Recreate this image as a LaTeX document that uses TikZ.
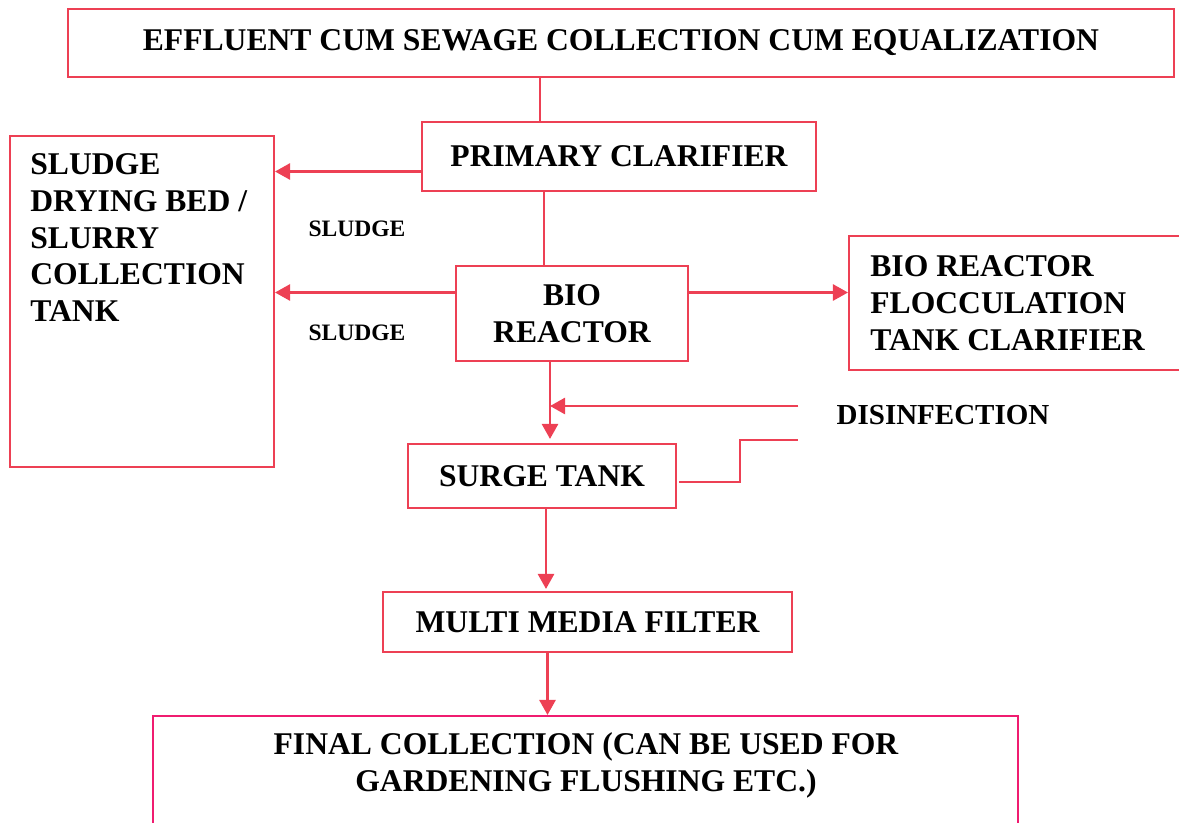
\documentclass[tikz,border=0pt]{standalone}
\usepackage{fontspec}
\setmainfont{Liberation Serif}
\usetikzlibrary{arrows.meta,calc}
\definecolor{LineClr}{RGB}{237,64,84}
\definecolor{FinalClr}{RGB}{240,28,112}

\begin{document}
\begin{tikzpicture}[x=0.02cm,y=-0.02cm,
  box/.style={draw=LineClr,line width=1.2pt,inner sep=0pt},
  txt/.style={font=\fontsize{18}{21}\selectfont\bfseries,align=left,inner sep=0pt},
  midtxt/.style={font=\fontsize{16.5}{19}\selectfont\bfseries,inner sep=0pt},
  smalltxt/.style={font=\fontsize{13.4}{15}\selectfont\bfseries,inner sep=0pt},
  pipe/.style={draw=LineClr,line width=1.5pt},
  flow/.style={pipe,-{Triangle[length=0.3cm,width=0.32cm]}}]
\clip (0,0) rectangle (1179,822);

% boxes
\node[box,txt,minimum width=22.12cm,minimum height=1.36cm] (equal) at (621,43) {EFFLUENT CUM SEWAGE COLLECTION CUM EQUALIZATION};
\node[box,txt,minimum width=7.88cm,minimum height=1.38cm] (prim) at (619,156.5) {PRIMARY CLARIFIER};
\node[box,minimum width=5.28cm,minimum height=6.62cm] (bed) at (142,301.5) {};
\node[txt,anchor=north west] (bedtxt) at (30,153) {SLUDGE\\DRYING BED /\\SLURRY\\COLLECTION\\TANK};
\node[box,txt,align=center,minimum width=4.64cm,minimum height=1.9cm] (bio) at (572,313.5) {BIO\\REACTOR};
\node[box,minimum width=7.02cm,minimum height=2.68cm] (floc) at (1024.5,303) {};
\node[txt,anchor=north west] (floctxt) at (870,255) {BIO REACTOR\\FLOCCULATION\\TANK CLARIFIER};
\node[box,txt,minimum width=5.36cm,minimum height=1.28cm] (surge) at (542,476) {SURGE TANK};
\node[box,txt,minimum width=8.18cm,minimum height=1.2cm] (mmf) at (587.5,622) {MULTI MEDIA FILTER};
\node[box,draw=FinalClr,minimum width=17.3cm,minimum height=2.88cm] (final) at (585.5,788) {};
\node[txt,align=center] (finaltxt) at (586,765) {FINAL COLLECTION (CAN BE USED FOR\\GARDENING FLUSHING ETC.)};

% labels
\node[smalltxt] (sl1) at (357,229) {SLUDGE};
\node[smalltxt] (sl2) at (357,333) {SLUDGE};
\node[midtxt] (dis) at (943,415) {DISINFECTION};

% connectors
\coordinate (t1) at ($(prim.north west)+(119,0)$);
\draw[pipe] (equal.south -| t1) -- (t1);

\coordinate (p1) at ($(prim.west)+(0,15)$);
\draw[flow] (p1) -- (p1 -| bed.east);

\coordinate (b1) at ($(bio.north west)+(89,0)$);
\draw[pipe] (b1 |- prim.south) -- (b1);

\coordinate (b2) at ($(bio.west)+(0,-21)$);
\draw[flow] (b2) -- (b2 -| bed.east);
\coordinate (b3) at ($(bio.east)+(0,-21)$);
\draw[flow] (b3) -- (b3 -| floc.west);

\coordinate (b4) at ($(bio.south)+(-22,0)$);
\draw[flow,shorten >=0.08cm] (b4) -- (b4 |- surge.north);

\coordinate (d1) at ($(dis.west)+(-38,-9)$);
\coordinate (d2) at ($(dis.west)+(-38,25)$);
\draw[flow] (d1) -- (d1 -| b4);
\coordinate (s1) at ($(surge.east)+(2,6)$);
\draw[pipe] (s1) -- ++(61,0) |- (d2);

\coordinate (s2) at ($(surge.south)+(4,0)$);
\draw[flow,shorten >=0.04cm] (s2) -- (s2 |- mmf.north);
\coordinate (m1) at ($(mmf.south)+(-40,0)$);
\draw[flow] (m1) -- (m1 |- final.north);

\end{tikzpicture}
\end{document}
